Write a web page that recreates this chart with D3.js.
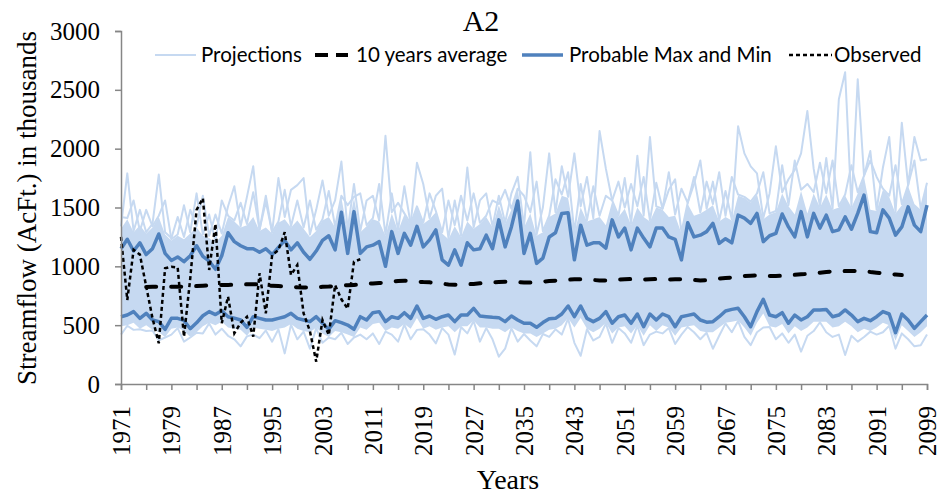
<!DOCTYPE html>
<html>
<head>
<meta charset="utf-8">
<script src="https://cdn.jsdelivr.net/npm/d3@7"></script>
<style>
  body { margin: 0; background: #fff; }
</style>
</head>
<body>
<svg id="chart" width="941" height="495"></svg>
<script>
// streamflow scenario A2, values in thousands of AcFt, one per year 1971-2099
const firstYear = 1971;
const lastYear = 2099;
const xTickLabels = [1971, 1979, 1987, 1995, 2003, 2011, 2019, 2027, 2035, 2043, 2051, 2059, 2067, 2075, 2083, 2091, 2099];
const yTicks = [0, 500, 1000, 1500, 2000, 2500, 3000];

// probable max (1971..2099)
const probMax = [
  1150, 1230, 1130, 1200, 1100, 1150, 1275, 1110, 1050, 1080,
  1040, 1090, 1175, 1085, 1045, 975, 1090, 1285, 1210, 1175,
  1150, 1150, 1120, 1150, 1100, 1160, 1220, 1140, 1200, 1120,
  1060, 1130, 1220, 1260, 1140, 1460, 1110, 1465, 1110, 1165,
  1180, 1210, 1000, 1295, 1110, 1280, 1180, 1340, 1165, 1225,
  1310, 1055, 1010, 1140, 1010, 1200, 1140, 1150, 1265, 1150,
  1395, 1165, 1335, 1555, 1110, 1280, 1025, 1070, 1250, 1285,
  1450, 1455, 1055, 1350, 1180, 1200, 1200, 1155, 1395, 1250,
  1325, 1140, 1325, 1240, 1165, 1325, 1325, 1250, 1230, 1055,
  1370, 1250, 1265, 1295, 1365, 1195, 1235, 1200, 1435, 1410,
  1365, 1450, 1210, 1260, 1280, 1445, 1335, 1250, 1465, 1250,
  1450, 1325, 1435, 1295, 1310, 1420, 1315, 1450, 1605, 1295,
  1285, 1480, 1410, 1265, 1335, 1505, 1350, 1295, 1520
];

// probable min (1971..2099)
const probMin = [
  572, 586, 615, 558, 601, 544, 530, 465, 558, 558,
  540, 470, 520, 580, 615, 590, 623, 572, 560, 544,
  482, 572, 558, 544, 544, 558, 572, 601, 558, 544,
  530, 572, 516, 465, 538, 521, 501, 465, 572, 544,
  606, 615, 530, 572, 558, 606, 558, 663, 558, 578,
  550, 572, 586, 530, 586, 586, 643, 578, 572, 567,
  564, 530, 578, 544, 516, 516, 482, 522, 555, 558,
  595, 663, 572, 663, 558, 530, 558, 615, 516, 572,
  586, 516, 595, 487, 595, 544, 595, 572, 487, 572,
  583, 595, 544, 525, 530, 572, 620, 634, 643, 572,
  487, 615, 720, 586, 572, 606, 516, 586, 544, 572,
  629, 629, 634, 572, 586, 629, 586, 530, 558, 538,
  572, 615, 595, 436, 595, 544, 473, 530, 586
];

// 10 years average (1975..2095)
const avgStart = 1975;
const avg10 = [
  825, 826, 827, 828, 827, 826,
  828, 830, 832, 835, 838, 840, 842, 842, 843, 845,
  848, 848, 846, 840, 834, 832, 830, 826, 822, 820,
  820, 822, 826, 828, 832, 838, 840, 842, 845, 850,
  855, 858, 862, 870, 876, 878, 876, 870, 866, 864,
  860, 852, 846, 844, 845, 848, 850, 856, 862, 865,
  866, 868, 868, 865, 862, 862, 865, 870, 875, 878,
  882, 886, 890, 890, 888, 884, 880, 880, 884, 888,
  890, 892, 890, 888, 890, 892, 890, 888, 890, 890,
  888, 884, 880, 882, 888, 895, 900, 905, 912, 918,
  921, 922, 920, 918, 918, 920, 924, 928, 932, 935,
  940, 946, 952, 956, 958, 960, 960, 962, 960, 952,
  946, 940, 935, 930, 926
];

// observed (1971..2009)
const observed = [
  1250, 714, 1140, 1100, 830, 560, 346, 983, 997, 990,
  402, 900, 1480, 1578, 969, 1360, 516, 742, 431, 520,
  572, 402, 941, 600, 1096, 1139, 1290, 926, 1011, 600,
  450, 190, 544, 416, 840, 720, 640, 1040, 1060
];

// projections: dense band edges (1971..2099)
const projBandTop = [
  1320, 1400, 1290, 1350, 1280, 1330, 1420, 1270, 1220, 1260,
  1230, 1280, 1330, 1260, 1240, 1200, 1260, 1420, 1380, 1330,
  1350, 1420, 1300, 1330, 1280, 1370, 1400, 1330, 1390, 1320,
  1250, 1300, 1390, 1420, 1330, 1580, 1300, 1580, 1290, 1340,
  1400, 1380, 1260, 1450, 1300, 1440, 1350, 1500, 1360, 1400,
  1460, 1280, 1230, 1340, 1250, 1380, 1320, 1360, 1420, 1330,
  1520, 1360, 1480, 1650, 1330, 1450, 1260, 1290, 1420, 1450,
  1600, 1580, 1280, 1500, 1380, 1400, 1420, 1350, 1550, 1420,
  1490, 1350, 1500, 1420, 1380, 1500, 1480, 1420, 1430, 1280,
  1530, 1430, 1450, 1480, 1520, 1380, 1420, 1390, 1600, 1580,
  1540, 1610, 1400, 1440, 1460, 1620, 1510, 1440, 1640, 1450,
  1620, 1500, 1610, 1480, 1500, 1600, 1500, 1620, 1760, 1480,
  1470, 1650, 1590, 1450, 1520, 1680, 1530, 1480, 1700
];
const projBandBottom = [
  490, 500, 520, 470, 500, 460, 440, 400, 470, 480,
  450, 400, 440, 490, 520, 500, 530, 480, 470, 460,
  410, 480, 470, 460, 450, 470, 480, 510, 470, 450,
  440, 480, 430, 400, 450, 440, 420, 400, 480, 460,
  510, 520, 450, 480, 470, 510, 470, 560, 470, 490,
  460, 480, 490, 440, 490, 490, 540, 480, 480, 470,
  470, 440, 480, 450, 430, 430, 400, 430, 460, 470,
  500, 560, 480, 560, 470, 440, 470, 520, 430, 480,
  490, 430, 500, 410, 500, 450, 500, 480, 410, 480,
  490, 500, 450, 440, 440, 480, 520, 530, 540, 480,
  410, 520, 600, 490, 480, 510, 430, 490, 450, 480,
  530, 530, 530, 480, 490, 530, 490, 440, 470, 450,
  480, 520, 500, 370, 500, 450, 400, 440, 490
];

// projections: runs that spike out of the band (1971..2099)
const projHigh = [
  1340, 1790, 1300, 1480, 1290, 1360, 1780, 1290, 1240, 1420,
  1250, 1480, 1340, 1600, 1260, 1440, 1280, 1510, 1680, 1340,
  1590, 1850, 1310, 1550, 1290, 1750, 1420, 1650, 1690, 1750,
  1270, 1480, 1730, 1430, 1560, 1890, 1310, 1700, 1300, 1560,
  1600, 1390, 2110, 1460, 1540, 1450, 1360, 1880, 1700, 1410,
  1600, 1660, 1240, 1560, 1260, 1840, 1330, 1560, 1620, 1340,
  1600, 1370, 1620, 1760, 1340, 1970, 1270, 1500, 1960, 1460,
  1850, 1590, 1960, 1510, 1760, 1410, 2150, 1830, 1560, 1430,
  1750, 1360, 1940, 1430, 2100, 1510, 1490, 1650, 1740, 1290,
  1540, 1700, 1900, 1490, 1720, 1390, 1640, 1400, 2190, 1960,
  1850, 1790, 1410, 1620, 2020, 1630, 1740, 1820, 1960, 2320,
  1830, 1510, 1920, 1490, 2420, 2650, 1510, 2590, 1770, 1980,
  1480, 1840, 2100, 1460, 2220, 1690, 2100, 1900, 1910
];
const projHigh2 = [
  1420, 1410, 1560, 1300, 1480, 1340, 1430, 1560, 1230, 1270,
  1520, 1290, 1620, 1270, 1440, 1210, 1560, 1430, 1390, 1540,
  1360, 1630, 1310, 1600, 1290, 1380, 1650, 1340, 1560, 1330,
  1560, 1310, 1400, 1640, 1340, 1600, 1520, 1590, 1620, 1350,
  1410, 1700, 1270, 1620, 1310, 1680, 1360, 1510, 1370, 1620,
  1470, 1290, 1560, 1350, 1600, 1390, 1620, 1370, 1430, 1560,
  1530, 1650, 1490, 1660, 1600, 1460, 1720, 1300, 1430, 1740,
  1610, 1800, 1290, 1700, 1390, 1680, 1430, 1600, 1560, 1720,
  1500, 1700, 1510, 1760, 1390, 1710, 1490, 1800, 1440, 1660,
  1540, 1760, 1460, 1720, 1530, 1800, 1430, 1760, 1610, 1590,
  1550, 1620, 1800, 1450, 1470, 1860, 1520, 1900, 1650, 1700,
  1630, 1880, 1620, 1900, 1510, 1610, 1860, 1630, 1770, 1900,
  1760, 1660, 1600, 1860, 1530, 1690, 1900, 1490, 1710
];
const projLow = [
  420, 495, 460, 465, 450, 455, 370, 395, 420, 475,
  360, 395, 435, 430, 515, 420, 470, 410, 380, 320,
  405, 420, 390, 455, 360, 465, 260, 505, 380, 445,
  300, 475, 350, 395, 380, 435, 340, 395, 420, 380,
  430, 340, 445, 420, 360, 505, 380, 460, 465, 420,
  345, 475, 420, 250, 485, 430, 535, 360, 475, 380,
  232, 300, 475, 360, 425, 370, 320, 425, 400, 465,
  420, 555, 350, 240, 465, 370, 400, 515, 350, 475,
  430, 350, 495, 330, 420, 445, 430, 475, 340, 420,
  485, 440, 380, 435, 300, 410, 515, 440, 535, 400,
  330, 440, 480, 485, 380, 430, 350, 420, 275, 410,
  450, 525, 440, 400, 420, 246, 410, 360, 400, 445,
  420, 440, 495, 300, 430, 380, 320, 330, 420
];

const svg = d3.select("#chart");

const x = d3.scaleLinear().domain([firstYear, lastYear]).range([121, 927]);
const y = d3.scaleLinear().domain([0, 3000]).range([384, 31]);

const lightBlue = "#c6d9f1";
const midBlue = "#4f81bd";
const axisGrey = "#868686";
const serif = "Liberation Serif, Times New Roman, serif";

const line = (start) => d3.line().x((d, i) => x(start + i)).y(d => y(d));

// projections band
const band = d3.area()
  .x((d, i) => x(firstYear + i))
  .y0((d, i) => y(projBandBottom[i]))
  .y1(d => y(d));

svg.append("path")
  .attr("d", band(projBandTop))
  .attr("fill", lightBlue);

[projHigh2, projHigh, projLow].forEach(s => {
  svg.append("path")
    .attr("d", line(firstYear)(s))
    .attr("fill", "none")
    .attr("stroke", lightBlue)
    .attr("stroke-width", 2)
    .attr("stroke-linejoin", "round");
});

// probable max and min
[probMax, probMin].forEach(s => {
  svg.append("path")
    .attr("d", line(firstYear)(s))
    .attr("fill", "none")
    .attr("stroke", midBlue)
    .attr("stroke-width", 3.5)
    .attr("stroke-linejoin", "round");
});

// 10 years average
svg.append("path")
  .attr("d", line(avgStart)(avg10))
  .attr("fill", "none")
  .attr("stroke", "#000")
  .attr("stroke-width", 4)
  .attr("stroke-linecap", "round")
  .attr("stroke-dasharray", "10,15");

// observed
svg.append("path")
  .attr("d", line(firstYear)(observed))
  .attr("fill", "none")
  .attr("stroke", "#000")
  .attr("stroke-width", 2.5)
  .attr("stroke-dasharray", "4,3");

// axes
const xAxis = d3.axisBottom(x)
  .tickValues(d3.range(firstYear, lastYear + 1, 4))
  .tickSize(6)
  .tickFormat(d => xTickLabels.includes(d) ? d : "");

const gx = svg.append("g")
  .attr("transform", "translate(0,384)")
  .call(xAxis);
gx.select(".domain").attr("stroke", axisGrey).attr("stroke-width", 1.5);
gx.selectAll(".tick line").attr("stroke", axisGrey).attr("stroke-width", 1.5);
gx.selectAll(".tick text")
  .attr("font-family", serif)
  .attr("font-size", 25)
  .attr("fill", "#000")
  .attr("text-anchor", "end")
  .attr("dominant-baseline", "central")
  .attr("transform", "rotate(-90)")
  .attr("x", -22)
  .attr("y", 0)
  .attr("dy", null);

const yAxis = d3.axisLeft(y)
  .tickValues(yTicks)
  .tickSize(6)
  .tickFormat(d3.format("d"));

const gy = svg.append("g")
  .attr("transform", "translate(121,0)")
  .call(yAxis);
gy.select(".domain").attr("stroke", axisGrey).attr("stroke-width", 1.5);
gy.selectAll(".tick line").attr("stroke", axisGrey).attr("stroke-width", 1.5);
gy.selectAll(".tick text")
  .attr("font-family", serif)
  .attr("font-size", 25)
  .attr("fill", "#000")
  .attr("x", -21);

// titles
svg.append("text")
  .attr("x", 481).attr("y", 31)
  .attr("text-anchor", "middle")
  .attr("font-family", serif)
  .attr("font-size", 30)
  .text("A2");

svg.append("text")
  .attr("transform", "translate(36,208) rotate(-90)")
  .attr("text-anchor", "middle")
  .attr("font-family", serif)
  .attr("font-size", 27)
  .text("Streamflow (AcFt.) in thousands");

svg.append("text")
  .attr("x", 508).attr("y", 489)
  .attr("text-anchor", "middle")
  .attr("font-family", serif)
  .attr("font-size", 28)
  .text("Years");

// legend
const legendItems = [
  { label: "Projections", color: lightBlue, width: 2, dash: null, x0: 155, x1: 196, tx: 201 },
  { label: "10 years average", color: "#000", width: 4, dash: "13,8", x0: 315, x1: 348, tx: 356 },
  { label: "Probable Max and Min", color: midBlue, width: 3.5, dash: null, x0: 522, x1: 563, tx: 569 },
  { label: "Observed", color: "#000", width: 2.5, dash: "4,3", x0: 789, x1: 832, tx: 834 }
];

const lg = svg.append("g");
legendItems.forEach(it => {
  lg.append("line")
    .attr("x1", it.x0).attr("x2", it.x1)
    .attr("y1", 55).attr("y2", 55)
    .attr("stroke", it.color)
    .attr("stroke-width", it.width)
    .attr("stroke-dasharray", it.dash);
  lg.append("text")
    .attr("x", it.tx).attr("y", 62)
    .attr("font-family", "Lato, Carlito, sans-serif")
    .attr("font-size", 20.5)
    .attr("fill", "#000")
    .text(it.label);
});
</script>
</body>
</html>
